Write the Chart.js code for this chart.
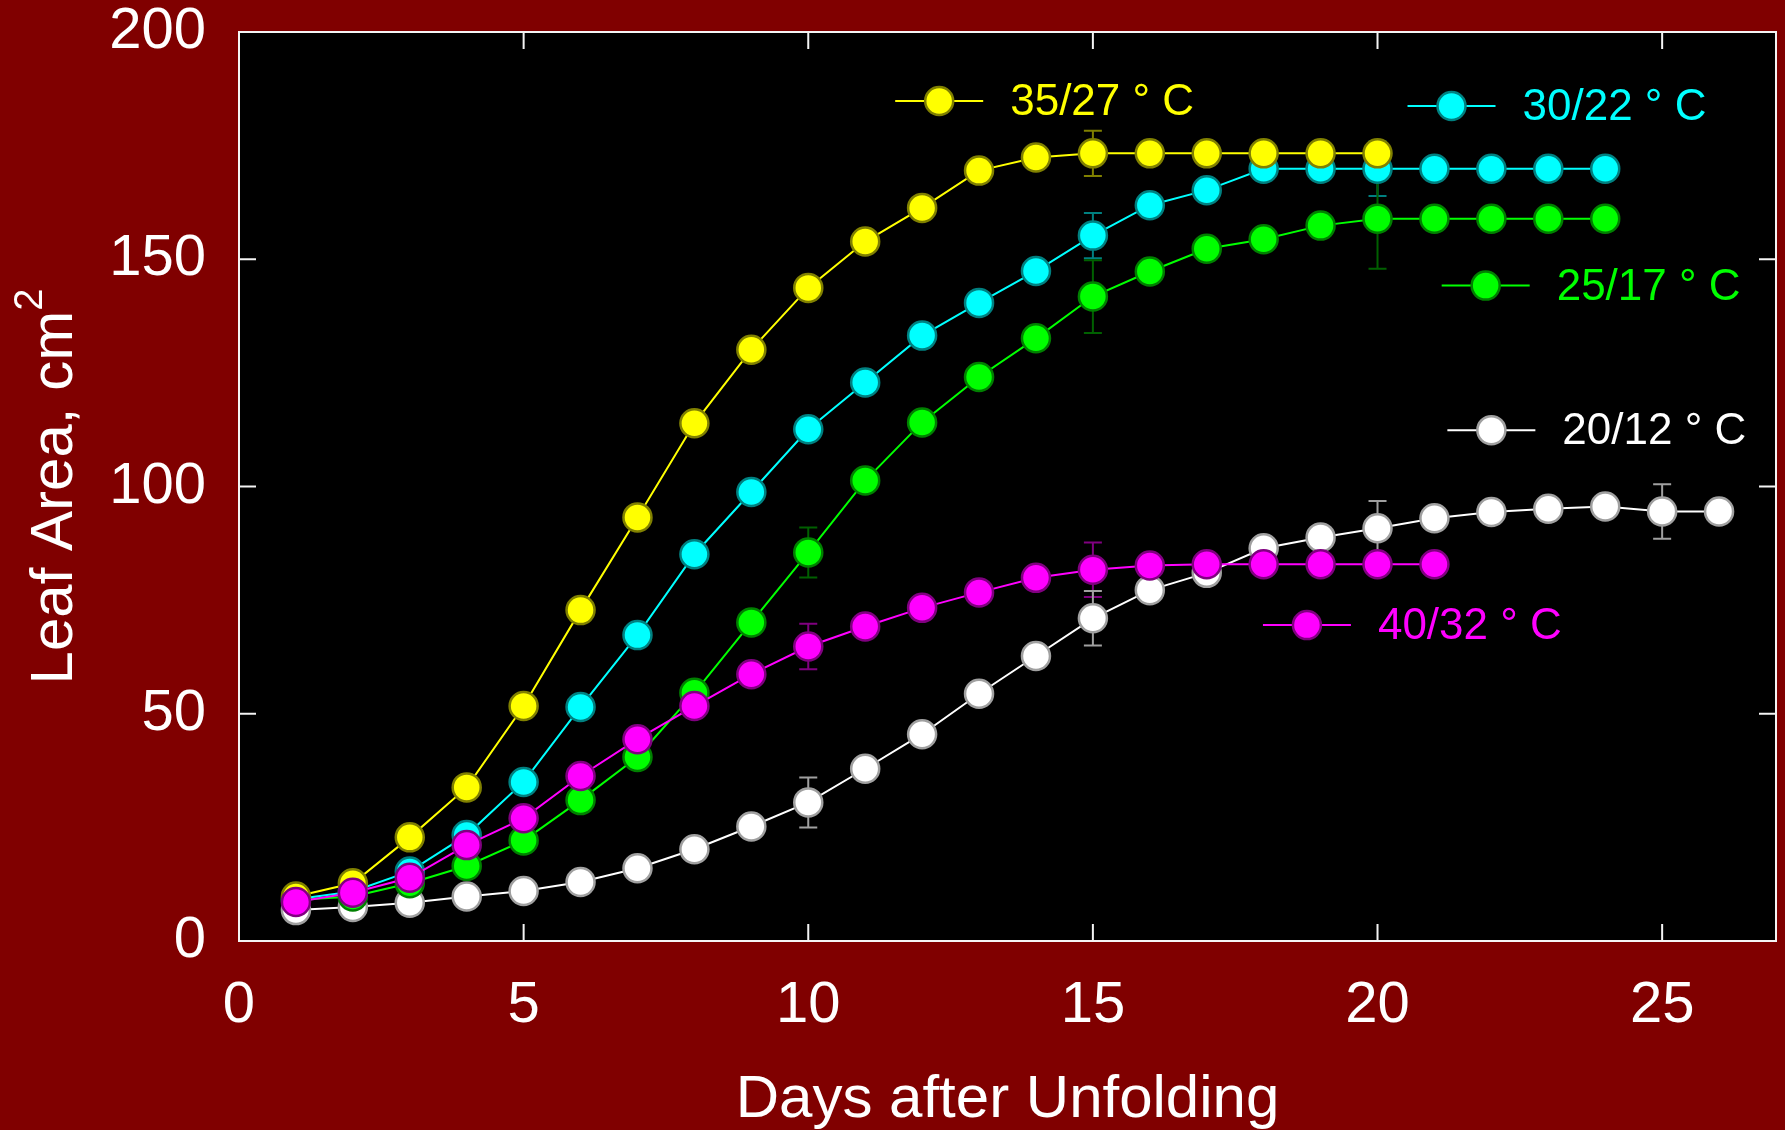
<!DOCTYPE html>
<html>
<head>
<meta charset="utf-8">
<script src="https://cdn.jsdelivr.net/npm/chart.js@4/dist/chart.umd.min.js"></script>
<style>
  html, body { margin: 0; padding: 0; background: #800000; }
  canvas { display: block; }
</style>
</head>
<body>
<canvas id="leafChart" width="1785" height="1130"></canvas>
<script>
// Leaf area vs days after unfolding, one series per day/night temperature
const days = [1, 2, 3, 4, 5, 6, 7, 8, 9, 10, 11, 12, 13, 14, 15, 16, 17, 18, 19, 20, 21, 22, 23, 24, 25, 26];

const leaf3527 = [9.8, 12.7, 22.8, 33.8, 51.7, 72.8, 93.2, 113.9, 130.1, 143.7, 153.9, 161.3, 169.5, 172.4, 173.3, 173.3, 173.3, 173.3, 173.3, 173.3];
const leaf3022 = [9.2, 10.9, 15.3, 23.3, 35, 51.5, 67.3, 85.1, 98.8, 112.6, 122.9, 133.2, 140.4, 147.4, 155.2, 161.9, 165.2, 169.9, 169.9, 169.9, 169.9, 169.9, 169.9, 169.9];
const leaf2517 = [9, 9.8, 12.7, 16.5, 22.1, 31, 40.5, 54.6, 70.1, 85.5, 101.3, 114.1, 124.1, 132.6, 141.8, 147.3, 152.3, 154.4, 157.4, 158.9, 158.9, 158.9, 158.9, 158.9];
const leaf2012 = [6.8, 7.5, 8.4, 9.8, 11, 13, 16, 20.2, 25.2, 30.5, 37.9, 45.5, 54.4, 62.7, 71, 77.2, 81, 86.4, 88.8, 90.8, 93, 94.4, 95.1, 95.6, 94.5, 94.5];
const leaf4032 = [8.6, 10.6, 13.9, 21.1, 27, 36.3, 44.4, 51.7, 58.7, 64.8, 69.2, 73.3, 76.7, 79.9, 81.7, 82.6, 82.9, 82.9, 82.9, 82.9, 82.9];

// error bars (only a few days carry one)
const errDays3527 = [15];          const errSize3527 = [5];
const errDays3022 = [15, 20];      const errSize3022 = [5, 6];
const errDays2517 = [10, 15, 20];  const errSize2517 = [5.5, 8, 11];
const errDays2012 = [10, 15, 20, 25]; const errSize2012 = [5.5, 6, 6, 6];
const errDays4032 = [10, 15];      const errSize4032 = [5, 6];

const xTicks = [0, 5, 10, 15, 20, 25];
const yTicks = [0, 50, 100, 150, 200];

const FONT = '"Liberation Sans", Arial, sans-serif';
Chart.defaults.font.family = FONT;

function toPoints(vals) {
    return vals.map((v, i) => ({ x: days[i], y: v }));
}

function series(label, vals, color, edge, order, errDays, errSize, errColor, legendAt) {
    return {
        label: label,
        data: toPoints(vals),
        order: order,
        borderColor: color,
        borderWidth: 2,
        backgroundColor: color,
        pointBackgroundColor: color,
        pointBorderColor: edge,
        pointBorderWidth: 2.5,
        pointRadius: 14,
        tension: 0,
        errDays: errDays,
        errSize: errSize,
        errColor: errColor,
        legendAt: legendAt
    };
}

const datasets = [
    series('40/32 \u00b0 C', leaf4032, '#ff00ff', '#800080', 0, errDays4032, errSize4032, '#800080', [18.76, 69.5]),
    series('35/27 \u00b0 C', leaf3527, '#ffff00', '#808000', 1, errDays3527, errSize3527, '#808000', [12.3, 184.8]),
    series('30/22 \u00b0 C', leaf3022, '#00ffff', '#008080', 2, errDays3022, errSize3022, '#008080', [21.3, 183.7]),
    series('25/17 \u00b0 C', leaf2517, '#00ff00', '#008000', 3, errDays2517, errSize2517, '#006000', [21.9, 144.2]),
    series('20/12 \u00b0 C', leaf2012, '#ffffff', '#a0a0a0', 4, errDays2012, errSize2012, '#a0a0a0', [22.0, 112.4])
];

// black plot area on maroon page
const backdrop = {
    id: 'backdrop',
    beforeDraw(chart) {
        const { ctx, chartArea: a } = chart;
        ctx.save();
        ctx.fillStyle = '#800000';
        ctx.fillRect(0, 0, chart.width, chart.height);
        ctx.fillStyle = '#000000';
        ctx.fillRect(a.left, a.top, a.right - a.left, a.bottom - a.top);
        ctx.restore();
    }
};

// error bars behind the markers
const errorBars = {
    id: 'errorBars',
    beforeDatasetsDraw(chart) {
        const { ctx, scales: { x, y } } = chart;
        ctx.save();
        ctx.lineWidth = 2;
        chart.data.datasets.forEach(ds => {
            ctx.strokeStyle = ds.errColor;
            ds.errDays.forEach((d, k) => {
                const v = ds.data[d - 1].y;
                const px = x.getPixelForValue(d);
                const top = y.getPixelForValue(v + ds.errSize[k]);
                const bot = y.getPixelForValue(v - ds.errSize[k]);
                ctx.beginPath();
                ctx.moveTo(px, top); ctx.lineTo(px, bot);
                ctx.moveTo(px - 9, top); ctx.lineTo(px + 9, top);
                ctx.moveTo(px - 9, bot); ctx.lineTo(px + 9, bot);
                ctx.stroke();
            });
        });
        ctx.restore();
    }
};

// frame, inward ticks, axis titles and the inline legend
const frame = {
    id: 'frame',
    afterDatasetsDraw(chart) {
        const { ctx, chartArea: a, scales: { x, y } } = chart;
        ctx.save();
        ctx.strokeStyle = '#f4f4f4';
        ctx.lineWidth = 2;
        ctx.strokeRect(a.left, a.top, a.right - a.left, a.bottom - a.top);
        ctx.beginPath();
        xTicks.slice(1).forEach(t => {
            const px = x.getPixelForValue(t);
            ctx.moveTo(px, a.bottom); ctx.lineTo(px, a.bottom - 17);
            ctx.moveTo(px, a.top); ctx.lineTo(px, a.top + 17);
        });
        yTicks.slice(1, -1).forEach(t => {
            const py = y.getPixelForValue(t);
            ctx.moveTo(a.left, py); ctx.lineTo(a.left + 17, py);
            ctx.moveTo(a.right, py); ctx.lineTo(a.right - 17, py);
        });
        ctx.stroke();

        // legend entries placed inside the plot
        chart.data.datasets.forEach(ds => {
            const cx = x.getPixelForValue(ds.legendAt[0]);
            const cy = y.getPixelForValue(ds.legendAt[1]);
            ctx.strokeStyle = ds.borderColor;
            ctx.lineWidth = 2;
            ctx.beginPath();
            ctx.moveTo(cx - 44, cy); ctx.lineTo(cx + 44, cy);
            ctx.stroke();
            ctx.beginPath();
            ctx.arc(cx, cy, 14, 0, Math.PI * 2);
            ctx.fillStyle = ds.pointBackgroundColor;
            ctx.fill();
            ctx.lineWidth = 2.5;
            ctx.strokeStyle = ds.pointBorderColor;
            ctx.stroke();
            ctx.fillStyle = ds.borderColor;
            ctx.font = '44px ' + FONT;
            ctx.textAlign = 'left';
            ctx.textBaseline = 'middle';
            ctx.fillText(ds.label, cx + 71, cy + 2);
        });

        // axis titles
        ctx.fillStyle = '#ffffff';
        ctx.font = '60px ' + FONT;
        ctx.textAlign = 'center';
        ctx.textBaseline = 'alphabetic';
        ctx.fillText('Days after Unfolding', (a.left + a.right) / 2, 1117);

        const main = 'Leaf Area, cm';
        const wMain = ctx.measureText(main).width;
        ctx.font = '40px ' + FONT;
        const wSup = ctx.measureText('2').width;
        ctx.translate(72, (a.top + a.bottom) / 2);
        ctx.rotate(-Math.PI / 2);
        ctx.textAlign = 'left';
        const start = -(wMain + wSup) / 2;
        ctx.font = '60px ' + FONT;
        ctx.fillText(main, start, 0);
        ctx.font = '40px ' + FONT;
        ctx.fillText('2', start + wMain, -30);
        ctx.restore();
    }
};

function noEdgePadding(s) {
    s.paddingTop = 0;
    s.paddingBottom = 0;
    s.paddingLeft = 0;
    s.paddingRight = 0;
}

new Chart(document.getElementById('leafChart'), {
    type: 'line',
    data: { datasets: datasets },
    options: {
        responsive: false,
        animation: false,
        events: [],
        layout: { autoPadding: false, padding: { top: 32, right: 9, left: 0, bottom: 0 } },
        plugins: {
            legend: { display: false },
            tooltip: { enabled: false }
        },
        scales: {
            x: {
                type: 'linear',
                min: 0,
                max: 27,
                afterBuildTicks: s => { s.ticks = xTicks.map(v => ({ value: v })); },
                afterFit: s => { s.height = 189; noEdgePadding(s); },
                grid: { display: false, drawTicks: false },
                border: { display: false },
                ticks: {
                    color: '#ffffff',
                    padding: 36,
                    maxRotation: 0,
                    font: { size: 58, lineHeight: 1 }
                }
            },
            y: {
                type: 'linear',
                min: 0,
                max: 200,
                afterBuildTicks: s => { s.ticks = yTicks.map(v => ({ value: v })); },
                afterFit: s => { s.width = 239; noEdgePadding(s); },
                grid: { display: false, drawTicks: false },
                border: { display: false },
                ticks: {
                    color: '#ffffff',
                    padding: 33,
                    font: { size: 58, lineHeight: 1 }
                }
            }
        }
    },
    plugins: [backdrop, errorBars, frame]
});
</script>
</body>
</html>
